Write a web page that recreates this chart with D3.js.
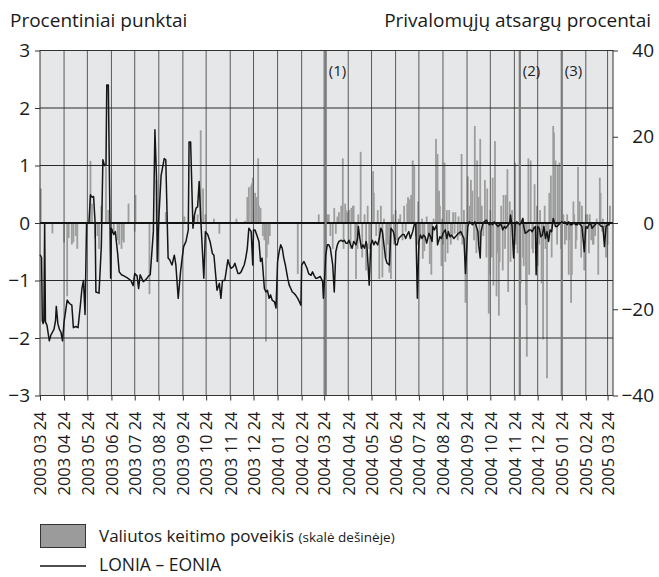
<!DOCTYPE html>
<html>
<head>
<meta charset="utf-8">
<script src="https://cdn.jsdelivr.net/npm/d3@7"></script>
<style>
  body { margin: 0; background: #fff; }
  svg { font-family: "Open Sans", "DejaVu Sans", sans-serif; }
</style>
</head>
<body>
<svg width="659" height="577"></svg>
<script>
// month tick labels on the x axis
let tickLabels = ["2003 03 24","2003 04 24","2003 05 24","2003 06 24","2003 07 24","2003 08 24",
  "2003 09 24","2003 10 24","2003 11 24","2003 12 24","2004 01 24","2004 02 24","2004 03 24",
  "2004 04 24","2004 05 24","2004 06 24","2004 07 24","2004 08 24","2004 09 24","2004 10 24",
  "2004 11 24","2004 12 24","2005 01 24","2005 02 24","2005 03 24"];

let leftTicks = [-3, -2, -1, 0, 1, 2, 3];
let rightTicks = [-40, -20, 0, 20, 40];

// reserve requirement changes
let events = [["2004-03-26", "(1)"], ["2004-12-01", "(2)"], ["2005-01-24", "(3)"]];

// LONIA - EONIA, percentage points (left scale)
let spread = [
 ["2003-03-24",-0.55],["2003-03-26",-0.6],["2003-03-27",-1.7],["2003-03-28",-1.75],["2003-03-29",-1.7],
 ["2003-03-30",0],["2003-03-31",-1.72],["2003-04-02",-1.78],["2003-04-05",-2.05],["2003-04-07",-1.95],
 ["2003-04-09",-1.9],["2003-04-11",-1.85],["2003-04-13",-1.7],["2003-04-14",-1.45],["2003-04-16",-1.75],
 ["2003-04-18",-1.85],["2003-04-20",-1.9],["2003-04-22",-2.05],["2003-04-24",-1.72],["2003-04-28",-1.34],
 ["2003-05-01",-1.4],["2003-05-04",-1.43],["2003-05-06",-1.82],["2003-05-09",-1.8],["2003-05-12",-1.82],
 ["2003-05-15",-1.43],["2003-05-17",-1.14],["2003-05-19",-1.0],["2003-05-21",-1.59],["2003-05-23",0],
 ["2003-05-26",0],["2003-05-28",0.49],["2003-05-30",0.45],["2003-06-01",0.46],["2003-06-03",0],
 ["2003-06-04",-1.2],["2003-06-08",-1.22],["2003-06-11",-0.4],["2003-06-13",1.1],["2003-06-15",1.0],
 ["2003-06-17",1.0],["2003-06-18",2.4],["2003-06-20",2.4],["2003-06-23",-0.96],["2003-06-24",-0.09],
 ["2003-06-27",-0.2],["2003-06-29",-0.15],["2003-07-02",-0.53],["2003-07-04",-0.85],["2003-07-07",-0.9],
 ["2003-07-10",-0.92],["2003-07-14",-0.95],["2003-07-19",-1.0],["2003-07-22",-1.09],["2003-07-24",-0.88],
 ["2003-07-27",-0.92],["2003-07-29",-1.14],["2003-07-31",-0.9],["2003-08-04",-1.02],["2003-08-07",-0.99],
 ["2003-08-11",-0.92],["2003-08-13",-0.9],["2003-08-17",-0.15],["2003-08-19",1.62],["2003-08-21",0.8],
 ["2003-08-22",-0.67],["2003-08-24",0.08],["2003-08-27",0.83],["2003-08-31",1.12],["2003-09-02",1.1],
 ["2003-09-05",-0.61],["2003-09-07",-0.64],["2003-09-10",-0.73],["2003-09-13",-0.56],["2003-09-15",-0.73],
 ["2003-09-18",-1.31],["2003-09-21",-0.85],["2003-09-23",-0.62],["2003-09-25",-0.41],["2003-09-28",-0.32],
 ["2003-10-01",-0.12],["2003-10-02",1.41],["2003-10-04",1.41],["2003-10-07",-0.09],["2003-10-09",0.14],
 ["2003-10-11",0.26],["2003-10-13",0.28],["2003-10-15",0.72],["2003-10-17",0.08],["2003-10-21",-0.96],
 ["2003-10-23",-0.15],["2003-10-26",-0.2],["2003-10-29",-0.32],["2003-11-01",-0.53],["2003-11-03",-0.56],
 ["2003-11-07",-1.17],["2003-11-10",-1.05],["2003-11-12",-1.31],["2003-11-14",-1.0],["2003-11-17",-1.0],
 ["2003-11-21",-0.64],["2003-11-23",-0.73],["2003-11-25",-0.79],["2003-11-28",-0.76],["2003-11-30",-0.7],
 ["2003-12-02",-0.79],["2003-12-04",-0.88],["2003-12-06",-0.88],["2003-12-08",-0.85],["2003-12-10",-0.79],
 ["2003-12-12",-0.73],["2003-12-14",-0.61],["2003-12-16",-0.44],["2003-12-18",-0.09],["2003-12-21",-0.15],
 ["2003-12-23",-0.73],["2003-12-24",-0.12],["2003-12-26",-0.12],["2003-12-28",-0.2],["2003-12-31",-0.32],
 ["2004-01-02",-0.67],["2004-01-04",-0.61],["2004-01-07",-1.14],["2004-01-09",-1.2],["2004-01-11",-1.17],
 ["2004-01-13",-1.31],["2004-01-15",-1.25],["2004-01-17",-1.34],["2004-01-20",-1.37],["2004-01-22",-1.48],
 ["2004-01-24",-0.67],["2004-01-26",-0.5],["2004-01-28",-0.38],["2004-01-30",-0.44],["2004-02-01",-0.61],
 ["2004-02-03",-0.73],["2004-02-06",-0.96],["2004-02-08",-1.08],["2004-02-10",-1.14],["2004-02-12",-1.2],
 ["2004-02-14",-1.22],["2004-02-16",-1.25],["2004-02-19",-1.31],["2004-02-21",-1.37],["2004-02-23",-1.43],
 ["2004-02-24",-0.73],["2004-02-27",-0.67],["2004-03-01",-0.76],["2004-03-02",-0.79],["2004-03-04",-0.88],
 ["2004-03-07",-0.91],["2004-03-09",-0.85],["2004-03-11",-0.91],["2004-03-13",-0.96],["2004-03-15",-0.96],
 ["2004-03-19",-0.93],["2004-03-22",-1.02],["2004-03-23",-1.31],["2004-03-25",-0.85],["2004-03-26",-0.56],
 ["2004-03-28",-0.38],["2004-03-30",-0.38],["2004-04-01",-0.44],["2004-04-04",-0.73],["2004-04-06",-1.2],
 ["2004-04-08",-0.5],["2004-04-10",-0.38],["2004-04-12",-0.32],["2004-04-15",-0.3],["2004-04-17",-0.32],
 ["2004-04-19",-0.3],["2004-04-21",-0.35],["2004-04-23",-0.35],["2004-04-25",-0.3],["2004-04-27",-0.38],
 ["2004-04-29",-0.44],["2004-05-01",-0.32],["2004-05-04",-0.38],["2004-05-06",-0.27],["2004-05-07",-0.06],
 ["2004-05-09",-0.27],["2004-05-11",-0.44],["2004-05-13",-0.38],["2004-05-15",-0.44],["2004-05-17",-0.32],
 ["2004-05-18",-0.38],["2004-05-21",-1.08],["2004-05-23",-0.38],["2004-05-25",-0.3],["2004-05-27",-0.38],
 ["2004-05-29",-0.32],["2004-06-01",-0.38],["2004-06-03",-0.27],["2004-06-05",-0.09],["2004-06-07",-0.15],
 ["2004-06-09",-0.38],["2004-06-11",-0.61],["2004-06-13",-0.7],["2004-06-16",-0.73],["2004-06-18",-0.09],
 ["2004-06-21",-0.15],["2004-06-22",-0.2],["2004-06-24",-0.38],["2004-06-26",-0.38],["2004-06-28",-0.27],
 ["2004-06-30",-0.24],["2004-07-03",-0.2],["2004-07-05",-0.2],["2004-07-07",-0.27],["2004-07-09",-0.2],
 ["2004-07-11",-0.15],["2004-07-13",-0.27],["2004-07-16",-0.15],["2004-07-18",-0.03],["2004-07-20",0.0],
 ["2004-07-22",-1.31],["2004-07-24",-0.33],["2004-07-26",-0.21],["2004-07-28",-0.27],["2004-07-30",-0.21],
 ["2004-08-01",-0.24],["2004-08-03",-0.35],["2004-08-06",-0.18],["2004-08-08",-0.24],["2004-08-10",-0.32],
 ["2004-08-11",-0.06],["2004-08-13",-0.12],["2004-08-16",-0.03],["2004-08-17",-0.38],["2004-08-20",-0.24],
 ["2004-08-22",-0.27],["2004-08-24",-0.18],["2004-08-27",-0.12],["2004-08-29",-0.27],["2004-08-31",-0.15],
 ["2004-09-02",-0.24],["2004-09-04",-0.21],["2004-09-07",-0.27],["2004-09-09",-0.24],["2004-09-11",-0.21],
 ["2004-09-13",-0.18],["2004-09-16",-0.15],["2004-09-18",-0.21],["2004-09-20",-0.27],["2004-09-22",-0.88],
 ["2004-09-25",-0.06],["2004-09-27",0.02],["2004-09-29",0.0],["2004-10-01",-0.03],["2004-10-04",0.02],
 ["2004-10-06",-0.06],["2004-10-08",-0.15],["2004-10-09",-0.38],["2004-10-11",-0.61],["2004-10-12",-0.15],
 ["2004-10-14",-0.03],["2004-10-16",0.02],["2004-10-19",0.05],["2004-10-21",0.0],["2004-10-23",-0.03],
 ["2004-10-25",0.0],["2004-10-27",-0.03],["2004-10-29",0.02],["2004-11-01",-0.03],["2004-11-03",-0.06],
 ["2004-11-05",-0.03],["2004-11-07",-0.03],["2004-11-09",-0.12],["2004-11-11",-0.06],["2004-11-13",-0.09],
 ["2004-11-16",-0.03],["2004-11-18",0.0],["2004-11-19",0.14],["2004-11-21",-0.06],["2004-11-23",-0.61],
 ["2004-11-25",-0.03],["2004-11-27",0.02],["2004-11-29",0.0],["2004-12-01",-0.03],["2004-12-03",0.02],
 ["2004-12-05",0.08],["2004-12-06",-0.06],["2004-12-08",-0.18],["2004-12-11",-0.15],["2004-12-13",-0.12],
 ["2004-12-15",-0.12],["2004-12-17",-0.15],["2004-12-19",-0.09],["2004-12-21",-0.06],["2004-12-22",-0.9],
 ["2004-12-24",-0.06],["2004-12-26",-0.09],["2004-12-28",-0.24],["2004-12-30",-0.21],["2005-01-01",-0.06],
 ["2005-01-03",-0.27],["2005-01-05",-0.15],["2005-01-07",-0.32],["2005-01-09",-0.12],["2005-01-11",-0.15],
 ["2005-01-13",0.08],["2005-01-16",-0.06],["2005-01-18",-0.06],["2005-01-20",-0.03],["2005-01-22",0.0],
 ["2005-01-24",0.02],["2005-01-26",0.0],["2005-01-28",0.02],["2005-01-31",-0.03],["2005-02-02",0.02],
 ["2005-02-04",-0.03],["2005-02-06",-0.03],["2005-02-09",0.0],["2005-02-11",-0.03],["2005-02-13",-0.03],
 ["2005-02-15",0.0],["2005-02-17",-0.03],["2005-02-19",-0.06],["2005-02-22",-0.5],["2005-02-24",-0.06],
 ["2005-02-26",-0.09],["2005-02-28",-0.03],["2005-03-02",0.0],["2005-03-04",-0.09],["2005-03-06",-0.06],
 ["2005-03-08",-0.03],["2005-03-10",0.0],["2005-03-12",0.0],["2005-03-14",-0.03],["2005-03-16",-0.06],
 ["2005-03-18",-0.06],["2005-03-20",-0.41],["2005-03-22",-0.06],["2005-03-24",-0.03],["2005-03-27",-0.03]
];

// exchange rate effect, percent of reserves (right scale)
let fxEffect = [
 ["2003-03-25",8],["2003-04-09",-2.4],["2003-04-24",-4.5],["2003-04-28",-17],["2003-04-30",-3.5],
 ["2003-05-04",-5],["2003-05-06",-4.5],["2003-05-09",-3],["2003-05-11",-6],["2003-05-28",14.4],
 ["2003-05-30",4.5],["2003-06-03",-3.5],["2003-06-06",-3],["2003-06-08",-6],["2003-06-11",4],
 ["2003-06-17",13],["2003-06-20",3],["2003-06-27",-2],["2003-07-02",-4],["2003-07-04",-5],
 ["2003-07-07",-6],["2003-07-09",-4],["2003-07-10",-4.5],["2003-07-16",4.5],["2003-07-24",-2],
 ["2003-07-25",6.5],["2003-08-12",-16.5],["2003-08-21",10],["2003-09-02",2.5],["2003-09-26",1.5],
 ["2003-10-09",1.5],["2003-10-13",2],["2003-10-17",21.5],["2003-10-20",8],["2003-10-23",2],
 ["2003-11-03",1],["2003-11-10",-2.5],["2003-12-02",1],["2003-12-13",0.5],["2003-12-16",6],
 ["2003-12-18",8.3],["2003-12-21",8.7],["2003-12-22",9.2],["2003-12-23",10.5],["2003-12-24",3],
 ["2003-12-26",7],["2003-12-28",6],["2003-12-30",15],["2003-12-31",4],["2004-01-02",3.5],
 ["2004-01-05",-3],["2004-01-07",-4],["2004-01-09",-27.5],["2004-01-10",-8],["2004-01-12",-5],
 ["2004-01-14",-3],["2004-02-19",-11.8],["2004-03-17",2],["2004-03-28",2],["2004-03-30",2],
 ["2004-04-01",-3],["2004-04-04",-6],["2004-04-06",3.5],["2004-04-08",-2.5],["2004-04-10",1.5],
 ["2004-04-12",2.5],["2004-04-15",4],["2004-04-17",15],["2004-04-18",-6],["2004-04-20",4.5],
 ["2004-04-21",3],["2004-04-23",2.5],["2004-04-25",3],["2004-04-27",-6],["2004-04-28",3.5],
 ["2004-04-30",4],["2004-05-01",4],["2004-05-03",-5],["2004-05-04",-13],["2004-05-06",-6],
 ["2004-05-07",2],["2004-05-10",16.5],["2004-05-12",-8],["2004-05-15",2],["2004-05-17",-11],
 ["2004-05-19",4],["2004-05-21",-6],["2004-05-23",-8],["2004-05-26",12],["2004-05-27",7],
 ["2004-05-30",-3],["2004-06-01",3],["2004-06-03",-13],["2004-06-05",4],["2004-06-07",-12.6],
 ["2004-06-09",1],["2004-06-12",-8],["2004-06-14",-5],["2004-06-16",-11.5],["2004-06-18",-13],
 ["2004-06-19",13.5],["2004-06-21",2],["2004-06-22",-5],["2004-06-24",3],["2004-06-26",-4],
 ["2004-06-28",1],["2004-06-30",2],["2004-07-03",-4],["2004-07-05",4],["2004-07-07",-2],
 ["2004-07-09",4.5],["2004-07-10",6],["2004-07-12",5.5],["2004-07-14",6.5],["2004-07-16",14.5],
 ["2004-07-18",13.5],["2004-07-20",-3],["2004-07-22",-5],["2004-07-23",5],["2004-07-24",-6],
 ["2004-07-26",-3],["2004-07-28",1],["2004-07-29",-8.3],["2004-07-31",-6.5],["2004-08-03",1.5],
 ["2004-08-05",-3],["2004-08-07",-9.5],["2004-08-09",-12],["2004-08-10",-2],["2004-08-12",1],
 ["2004-08-15",19.5],["2004-08-17",16],["2004-08-19",7.5],["2004-08-20",4],["2004-08-22",-10],
 ["2004-08-23",1],["2004-08-24",-5],["2004-08-26",14],["2004-08-27",-9],["2004-08-29",3],
 ["2004-08-30",-7],["2004-09-01",3],["2004-09-03",-5],["2004-09-05",-3],["2004-09-06",2.5],
 ["2004-09-08",-2.5],["2004-09-09",2.5],["2004-09-12",-4],["2004-09-13",1.5],["2004-09-15",-3],
 ["2004-09-17",16],["2004-09-18",-5],["2004-09-20",3],["2004-09-22",-18.5],["2004-09-25",10.8],
 ["2004-09-27",4],["2004-09-29",10],["2004-10-01",7.5],["2004-10-03",-4],["2004-10-04",22.5],
 ["2004-10-06",-7],["2004-10-07",14.5],["2004-10-09",6],["2004-10-10",-5],["2004-10-11",19.5],
 ["2004-10-13",4],["2004-10-15",-3],["2004-10-17",10],["2004-10-19",-8],["2004-10-20",8],
 ["2004-10-22",-21],["2004-10-23",-12],["2004-10-24",3],["2004-10-26",-8],["2004-10-27",10.5],
 ["2004-10-28",-14.5],["2004-10-30",19],["2004-11-01",-17],["2004-11-02",-7],["2004-11-04",-21.5],
 ["2004-11-05",-9],["2004-11-07",4],["2004-11-09",-11],["2004-11-10",6.5],["2004-11-12",-6],
 ["2004-11-13",6.5],["2004-11-15",12.5],["2004-11-16",-16],["2004-11-18",5],["2004-11-19",-9],
 ["2004-11-21",3],["2004-11-22",-3],["2004-11-24",-6],["2004-11-25",14],["2004-11-26",-5],
 ["2004-11-28",-7],["2004-12-02",-14],["2004-12-05",-8],["2004-12-06",-10],["2004-12-09",-19],
 ["2004-12-10",-31],["2004-12-12",15],["2004-12-13",-12],["2004-12-15",14.5],["2004-12-17",-6],
 ["2004-12-18",-7],["2004-12-20",9],["2004-12-22",-4],["2004-12-23",4],["2004-12-24",-10],
 ["2004-12-26",-5],["2004-12-27",3],["2004-12-29",-14],["2004-12-31",-27],["2005-01-02",4],
 ["2005-01-03",-6],["2005-01-05",-36],["2005-01-07",-4],["2005-01-08",7],["2005-01-10",11],
 ["2005-01-11",-8],["2005-01-13",22.5],["2005-01-14",21],["2005-01-16",14.5],["2005-01-18",-5],
 ["2005-01-19",13.5],["2005-01-21",14],["2005-01-23",-6],["2005-01-24",5],["2005-01-26",2],
 ["2005-01-28",-5],["2005-01-30",-4],["2005-01-31",2],["2005-02-02",-12],["2005-02-03",-4],
 ["2005-02-05",-18.5],["2005-02-06",-12],["2005-02-08",5],["2005-02-09",2],["2005-02-11",-6],
 ["2005-02-12",-4],["2005-02-14",13],["2005-02-16",5],["2005-02-18",-8],["2005-02-19",4],
 ["2005-02-21",-3],["2005-02-22",-11],["2005-02-24",2],["2005-02-26",2],["2005-02-28",-7],
 ["2005-03-01",2],["2005-03-03",-4],["2005-03-05",-5],["2005-03-06",-5],["2005-03-08",-3],
 ["2005-03-10",1],["2005-03-12",-12],["2005-03-14",10.5],["2005-03-15",7],["2005-03-17",-2],
 ["2005-03-18",1],["2005-03-20",-3],["2005-03-22",-8],["2005-03-24",-5],["2005-03-27",4]
];

var svg = d3.select("svg");
let margin = { left: 40, right: 46, top: 50.5, bottom: 181.5 };
let W = +svg.attr("width"), H = +svg.attr("height");
let x0 = margin.left, x1 = W - margin.right, y0 = margin.top, y1 = H - margin.bottom;

let parseDay = d3.timeParse("%Y-%m-%d");
let parseTick = d3.timeParse("%Y %m %d");

let x = d3.scaleTime()
  .domain([parseDay("2003-03-24"), parseDay("2005-03-31")])
  .range([x0, x1]);
let yL = d3.scaleLinear().domain([-3, 3]).range([y1, y0]);
let yR = d3.scaleLinear().domain([-40, 40]).range([y1, y0]);

let tickDates = tickLabels.map(parseTick);

// plot background
svg.append("rect")
  .attr("x", x0).attr("y", y0)
  .attr("width", x1 - x0).attr("height", y1 - y0)
  .attr("fill", "#e6e7e8");

// gray bars (right scale)
svg.append("g").selectAll("rect")
  .data(fxEffect)
  .join("rect")
  .attr("x", d => x(parseDay(d[0])) - 0.9)
  .attr("width", 1.8)
  .attr("y", d => Math.min(yR(d[1]), yR(0)))
  .attr("height", d => Math.abs(yR(d[1]) - yR(0)))
  .attr("fill", "#9d9d9d");

// vertical grid lines
svg.append("g").selectAll("line")
  .data(tickDates.slice(1))
  .join("line")
  .attr("x1", d => x(d)).attr("x2", d => x(d))
  .attr("y1", y0).attr("y2", y1)
  .attr("stroke", "#4a4a4a").attr("stroke-width", 0.9);

// horizontal grid lines
svg.append("g").selectAll("line")
  .data(leftTicks)
  .join("line")
  .attr("x1", x0).attr("x2", x1)
  .attr("y1", d => yL(d)).attr("y2", d => yL(d))
  .attr("stroke", d => d === 0 ? "#111" : "#2a2a2a")
  .attr("stroke-width", d => d === 0 ? 2 : 1);

// event lines and labels
let ev = svg.append("g");
ev.selectAll("line")
  .data(events)
  .join("line")
  .attr("x1", d => x(parseDay(d[0]))).attr("x2", d => x(parseDay(d[0])))
  .attr("y1", y0).attr("y2", y1)
  .attr("stroke", "#7d7d7d").attr("stroke-width", 2.2);
ev.selectAll("text")
  .data(events)
  .join("text")
  .attr("x", d => x(parseDay(d[0])) + 3)
  .attr("y", 76)
  .attr("font-size", 15)
  .attr("fill", "#222")
  .text(d => d[1]);

// LONIA - EONIA line
let line = d3.line()
  .x(d => x(parseDay(d[0])))
  .y(d => yL(d[1]));
svg.append("path")
  .datum(spread)
  .attr("d", line)
  .attr("fill", "none")
  .attr("stroke", "#151515")
  .attr("stroke-width", 1.5)
  .attr("stroke-linejoin", "round");

// frame
svg.append("rect")
  .attr("x", x0).attr("y", y0)
  .attr("width", x1 - x0).attr("height", y1 - y0)
  .attr("fill", "none")
  .attr("stroke", "#333").attr("stroke-width", 1);

let fmt = v => v < 0 ? "\u2212" + Math.abs(v) : String(v);

// left axis
let la = svg.append("g").attr("transform", `translate(${x0},0)`)
  .call(d3.axisLeft(yL).tickValues(leftTicks).tickFormat(fmt).tickSize(5).tickPadding(5));
// right axis
let ra = svg.append("g").attr("transform", `translate(${x1},0)`)
  .call(d3.axisRight(yR).tickValues(rightTicks).tickFormat(fmt).tickSize(5).tickPadding(11));
// bottom axis
let ba = svg.append("g").attr("transform", `translate(0,${y1})`)
  .call(d3.axisBottom(x).tickValues(tickDates).tickFormat((d, i) => tickLabels[i]).tickSize(5));

[la, ra, ba].forEach(a => {
  a.select(".domain").remove();
  a.selectAll("line").attr("stroke", "#333");
  a.selectAll("text").attr("fill", "#1a1a1a").attr("font-family", "Open Sans, DejaVu Sans, sans-serif");
});
la.selectAll("text").attr("font-size", 19);
ra.selectAll("text").attr("font-size", 19)
  .attr("text-anchor", "end")
  .attr("x", 41);
ba.selectAll("text")
  .attr("font-size", 16.5)
  .attr("text-anchor", "end")
  .attr("transform", "rotate(-90)")
  .attr("x", -16)
  .attr("y", 0)
  .attr("dy", "0.35em");

// axis titles
svg.append("text").attr("x", 10).attr("y", 27)
  .attr("font-size", 19).attr("fill", "#1a1a1a")
  .text("Procentiniai punktai");
svg.append("text").attr("x", 651).attr("y", 27)
  .attr("text-anchor", "end")
  .attr("font-size", 19).attr("fill", "#1a1a1a")
  .text("Privalomųjų atsargų procentai");

// legend
let lg = svg.append("g");
lg.append("rect").attr("x", 40.5).attr("y", 524.5).attr("width", 45).attr("height", 23)
  .attr("fill", "#9b9b9b").attr("stroke", "#333").attr("stroke-width", 1);
let t1 = lg.append("text").attr("x", 99).attr("y", 542).attr("font-size", 17).attr("fill", "#1a1a1a");
t1.append("tspan").text("Valiutos keitimo poveikis ");
t1.append("tspan").attr("font-size", 13.5).text("(skalė dešinėje)");
lg.append("line").attr("x1", 40).attr("x2", 86).attr("y1", 566).attr("y2", 566)
  .attr("stroke", "#151515").attr("stroke-width", 1.5);
lg.append("text").attr("x", 99).attr("y", 571).attr("font-size", 17.5).attr("fill", "#1a1a1a")
  .text("LONIA – EONIA");
</script>
</body>
</html>
